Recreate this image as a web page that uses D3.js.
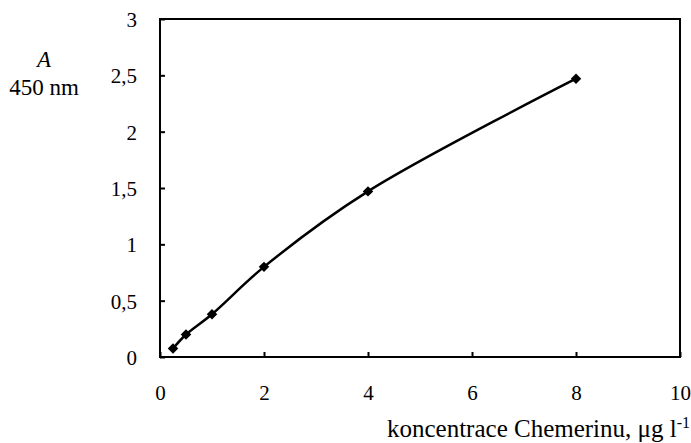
<!DOCTYPE html>
<html>
<head>
<meta charset="utf-8">
<script src="https://cdn.jsdelivr.net/npm/d3@7"></script>
<style>
  body { margin: 0; background: #fff; }
  svg text { font-family: "Liberation Serif", "Times New Roman", "DejaVu Serif", serif; fill: #000; }
</style>
</head>
<body>
<div id="chart"></div>
<script>
// data
const concentrations = [0.25, 0.5, 1, 2, 4, 8];
const absorbances = [0.075, 0.2, 0.38, 0.8, 1.47, 2.47];
const xTicks = [0, 2, 4, 6, 8, 10];
const yTicks = [0, 0.5, 1, 1.5, 2, 2.5, 3];

const width = 691;
const height = 443;
const margin = { top: 19, right: 11, bottom: 86, left: 160 };
const serif = '"Liberation Serif", "Times New Roman", serif';

const svg = d3.select("#chart")
  .append("svg")
  .attr("width", width)
  .attr("height", height);

const x = d3.scaleLinear().domain([0, 10]).range([margin.left, width - margin.right]);
const y = d3.scaleLinear().domain([0, 3]).range([height - margin.bottom, margin.top]);

const fmt = (d) => String(d).replace(".", ",");

// frame
svg.append("rect")
  .attr("x", x(0))
  .attr("y", y(3))
  .attr("width", x(10) - x(0))
  .attr("height", y(0) - y(3))
  .attr("fill", "none")
  .attr("stroke", "#000")
  .attr("stroke-width", 2);

// axes with inward ticks
const xAxis = svg.append("g")
  .attr("transform", `translate(0,${y(0)})`)
  .attr("font-family", serif)
  .call(d3.axisBottom(x).tickValues(xTicks).tickSizeInner(-5).tickSizeOuter(0).tickFormat(fmt));
xAxis.attr("font-family", serif).attr("font-size", 21);
xAxis.select(".domain").remove();
xAxis.selectAll(".tick line").attr("stroke-width", 2);
xAxis.selectAll(".tick text")
  .attr("y", 43)
  .attr("dy", 0)
  .style("font-size", "21px");

const yAxis = svg.append("g")
  .attr("transform", `translate(${x(0)},0)`)
  .call(d3.axisLeft(y).tickValues(yTicks).tickSizeInner(-5).tickSizeOuter(0).tickFormat(fmt));
yAxis.attr("font-family", serif).attr("font-size", 21);
yAxis.select(".domain").remove();
yAxis.selectAll(".tick line").attr("stroke-width", 2);
yAxis.selectAll(".tick text")
  .attr("x", -23)
  .attr("dy", "0.35em")
  .style("font-size", "21px");

// smoothed line
const points = concentrations.map((c, i) => [c, absorbances[i]]);
const line = d3.line()
  .x((d) => x(d[0]))
  .y((d) => y(d[1]))
  .curve(d3.curveCatmullRom.alpha(0.5));

svg.append("path")
  .datum(points)
  .attr("d", line)
  .attr("fill", "none")
  .attr("stroke", "#000")
  .attr("stroke-width", 2.5);

// diamond markers
svg.selectAll(".marker")
  .data(points)
  .enter()
  .append("path")
  .attr("class", "marker")
  .attr("d", d3.symbol().type(d3.symbolDiamond2).size(70))
  .attr("transform", (d) => `translate(${x(d[0])},${y(d[1])})`)
  .attr("fill", "#000");

// y title
svg.append("text")
  .attr("x", 44)
  .attr("y", 67)
  .attr("text-anchor", "middle")
  .style("font-size", "23px")
  .style("font-style", "italic")
  .text("A");
svg.append("text")
  .attr("x", 44)
  .attr("y", 95)
  .attr("text-anchor", "middle")
  .style("font-size", "23px")
  .text("450 nm");

// x title
const xt = svg.append("text")
  .attr("x", 690)
  .attr("y", 437)
  .attr("text-anchor", "end")
  .style("font-size", "25px");
xt.append("tspan").text("koncentrace Chemerinu, μg l");
xt.append("tspan").attr("dy", -9).style("font-size", "16px").text("-1");
</script>
</body>
</html>
